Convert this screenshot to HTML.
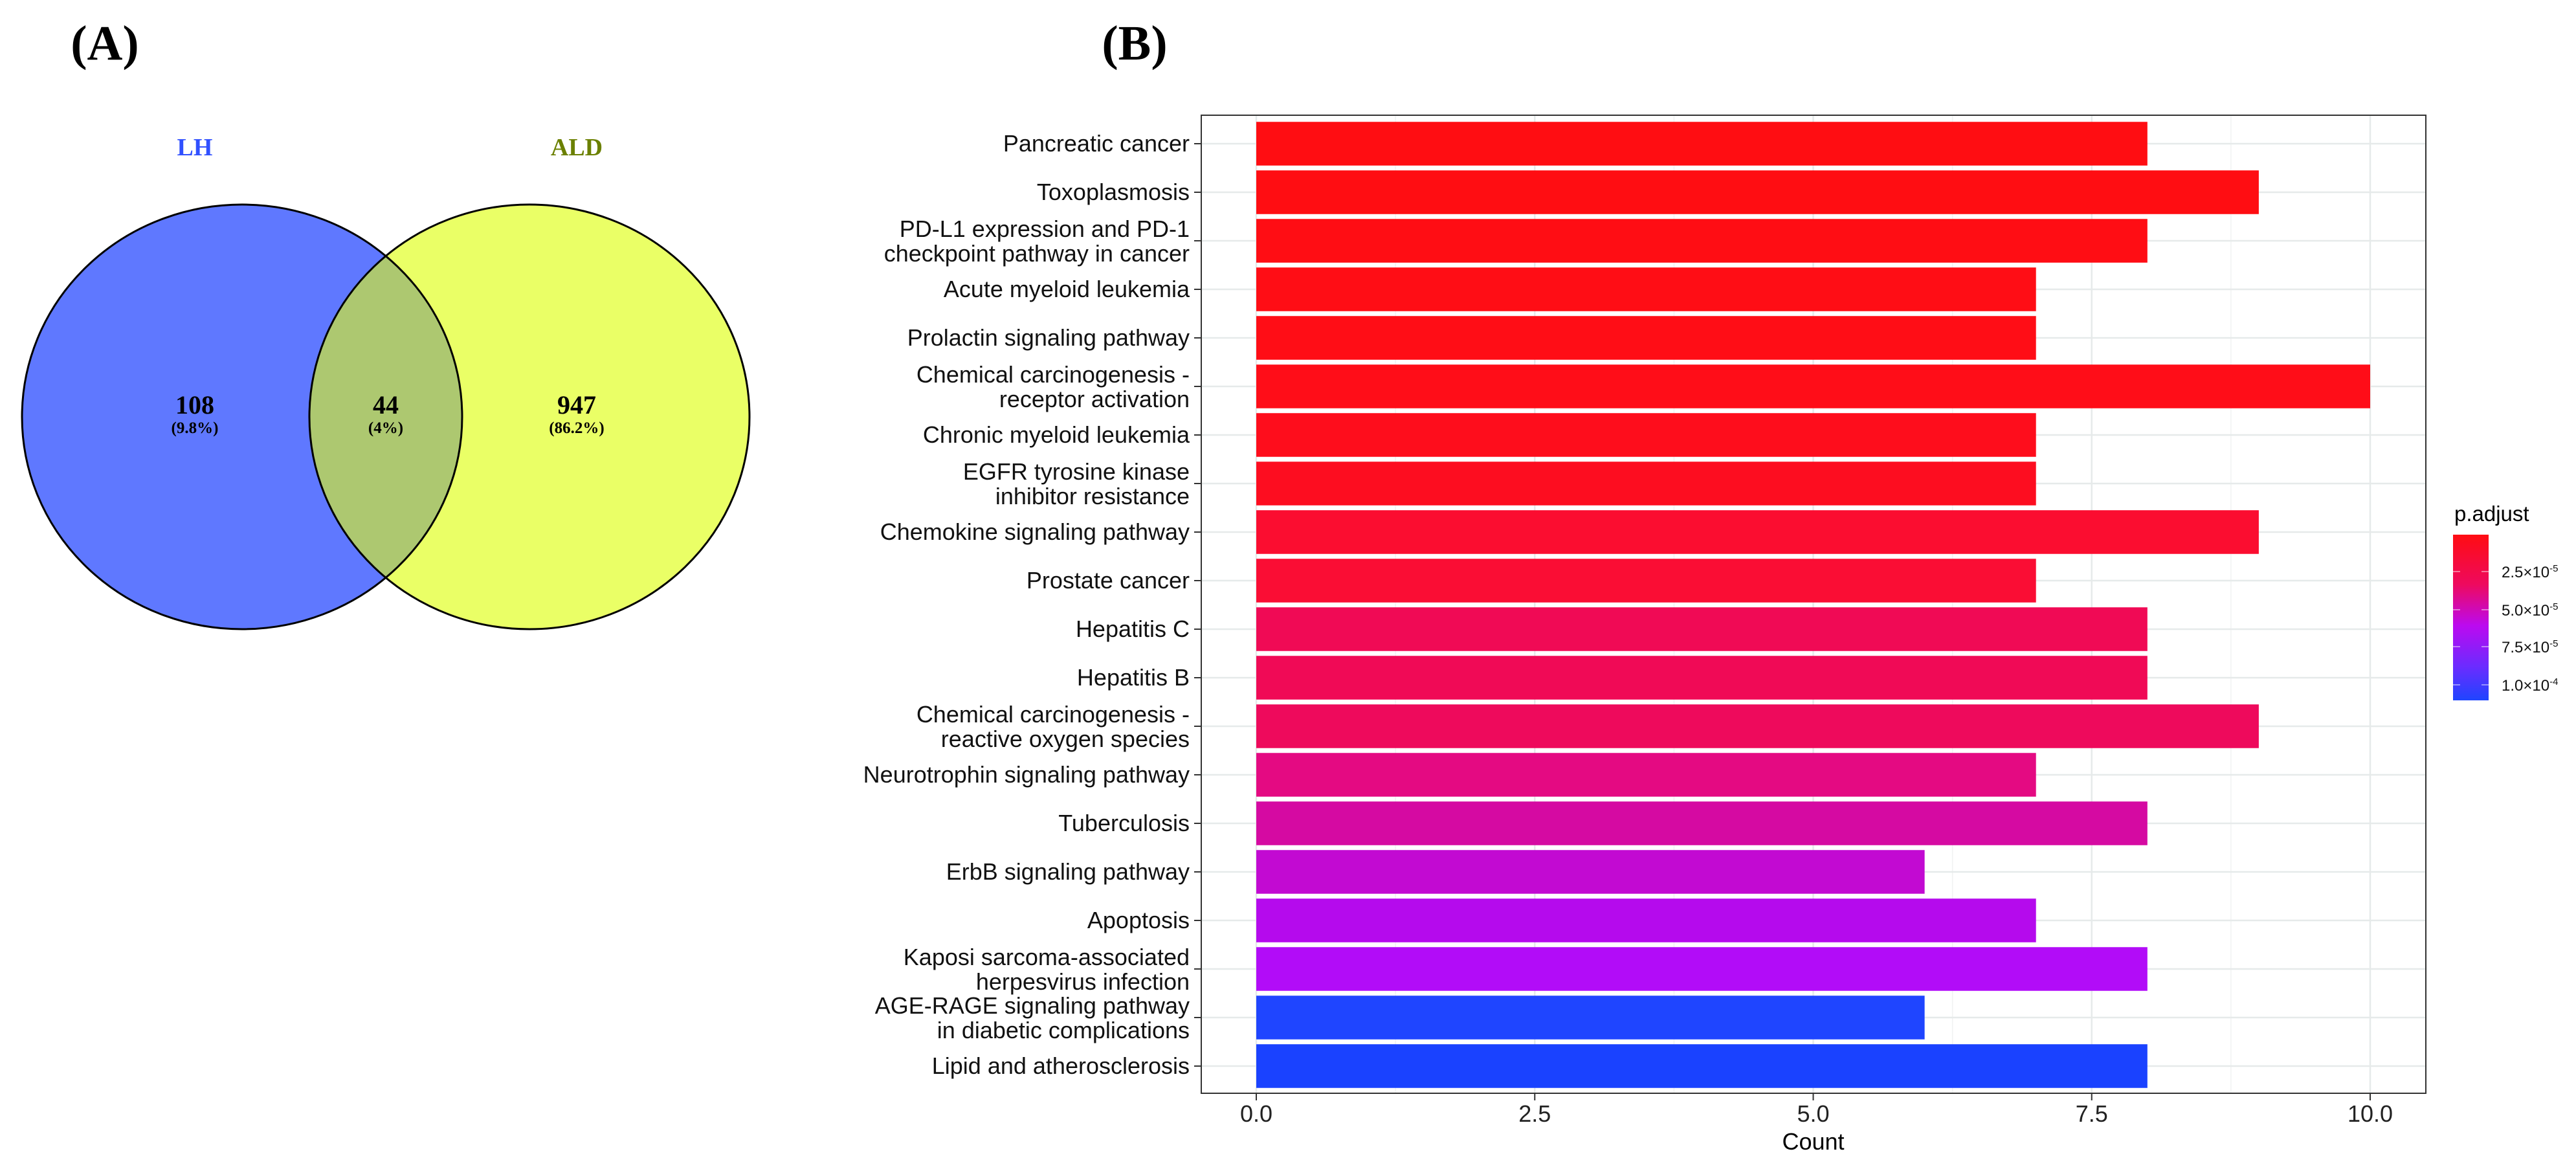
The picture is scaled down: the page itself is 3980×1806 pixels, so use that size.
<!DOCTYPE html>
<html><head><meta charset="utf-8"><style>
html,body{margin:0;padding:0;background:#fff;}
svg{display:block;}
</style></head><body>
<svg id="fig" width="3980" height="1806" viewBox="0 0 3980 1806" xmlns="http://www.w3.org/2000/svg">
<defs>
<linearGradient id="cbar" x1="0" y1="0" x2="0" y2="1">
<stop offset="0" stop-color="#ff0d12"/>
<stop offset="0.3" stop-color="#ee0a5e"/>
<stop offset="0.55" stop-color="#bb0af0"/>
<stop offset="0.8" stop-color="#6a2cff"/>
<stop offset="1" stop-color="#1f45ff"/>
</linearGradient>
<clipPath id="clipL"><ellipse cx="374" cy="644" rx="340" ry="328"/></clipPath>
</defs>
<text x="162" y="92" font-family="Liberation Serif, serif" font-weight="bold" font-size="76" text-anchor="middle">(A)</text>
<text x="1753" y="92" font-family="Liberation Serif, serif" font-weight="bold" font-size="76" text-anchor="middle">(B)</text>

<g>
<ellipse cx="374" cy="644" rx="340" ry="328" fill="#5f78ff"/>
<ellipse cx="818" cy="644" rx="340" ry="328" fill="#eaff66"/>
<ellipse cx="818" cy="644" rx="340" ry="328" fill="#adc870" clip-path="url(#clipL)"/>
<ellipse cx="374" cy="644" rx="340" ry="328" fill="none" stroke="#000" stroke-width="3"/>
<ellipse cx="818" cy="644" rx="340" ry="328" fill="none" stroke="#000" stroke-width="3"/>
<text x="301" y="240" font-family="Liberation Serif, serif" font-weight="bold" font-size="38" fill="#3050ff" text-anchor="middle">LH</text>
<text x="891" y="240" font-family="Liberation Serif, serif" font-weight="bold" font-size="38" fill="#6b8000" text-anchor="middle">ALD</text>
<g font-family="Liberation Serif, serif" font-weight="bold" text-anchor="middle">
<text x="301" y="639" font-size="40">108</text>
<text x="301" y="669" font-size="25">(9.8%)</text>
<text x="596" y="639" font-size="40">44</text>
<text x="596" y="669" font-size="25">(4%)</text>
<text x="891" y="639" font-size="40">947</text>
<text x="891" y="669" font-size="25">(86.2%)</text>
</g>
</g>

<g id="chart"></g>

<g>
<text x="3792" y="805" font-family="Liberation Sans, sans-serif" font-size="33">p.adjust</text>
<rect x="3790" y="826" width="55" height="256" fill="url(#cbar)"/>
<g id="legticks"></g>
</g>
</svg>
<script>
const categories = ["Pancreatic cancer","Toxoplasmosis","PD-L1 expression and PD-1|checkpoint pathway in cancer","Acute myeloid leukemia","Prolactin signaling pathway","Chemical carcinogenesis -|receptor activation","Chronic myeloid leukemia","EGFR tyrosine kinase|inhibitor resistance","Chemokine signaling pathway","Prostate cancer","Hepatitis C","Hepatitis B","Chemical carcinogenesis -|reactive oxygen species","Neurotrophin signaling pathway","Tuberculosis","ErbB signaling pathway","Apoptosis","Kaposi sarcoma-associated|herpesvirus infection","AGE-RAGE signaling pathway|in diabetic complications","Lipid and atherosclerosis"];
const counts = [8,9,8,7,7,10,7,7,9,7,8,8,9,7,8,6,7,8,6,8];
const barColors = ["#ff0d12","#ff0d12","#ff0d14","#ff0d15","#ff0d16","#ff0d18","#fe0d1c","#fd0d20","#fb0d30","#fa0d34","#f00a55","#f00a56","#ee0a5c","#e40a82","#d50aa2","#c20ad2","#b50aed","#b20cf8","#1f45ff","#1a42ff"];
const xTicks = [0,2.5,5,7.5,10];
const xTickLabels = ["0.0","2.5","5.0","7.5","10.0"];
const legendLabels = ["2.5×10","5.0×10","7.5×10","1.0×10"];
const legendExps = ["-5","-5","-5","-4"];

const NS="http://www.w3.org/2000/svg";
const P={l:1856,r:3748,t:178,b:1689};
const x0=1941, xUnit=172.1;
const xs=v=>x0+v*xUnit;
const yFirst=222, yStep=75;
const ys=i=>yFirst+i*yStep;
const g=document.getElementById('chart');
function mk(t,a,p){const e=document.createElementNS(NS,t);for(const k in a)e.setAttribute(k,a[k]);(p||g).appendChild(e);return e;}

const bg=mk('rect',{x:P.l,y:P.t,width:P.r-P.l,height:P.b-P.t,fill:'#fff'});


for(let i=0;i<xTicks.length-1;i++){const v=(xTicks[i]+xTicks[i+1])/2;
 const l=mk('line',{x1:xs(v),x2:xs(v),y1:P.t,y2:P.b,stroke:'#f0f2f2','stroke-width':1.5});
 
 }
xTicks.forEach(v=>{const l=mk('line',{x1:xs(v),x2:xs(v),y1:P.t,y2:P.b,stroke:'#e6eaea','stroke-width':2.5});
 
 });
categories.forEach((c,i)=>{const l=mk('line',{x1:P.l,x2:P.r,y1:ys(i),y2:ys(i),stroke:'#e6eaea','stroke-width':2.5});
 
 });
const bh=yStep*0.9;
counts.forEach((v,i)=>{
 const r=mk('rect',{x:xs(0),y:ys(i)-bh/2,width:xs(v)-xs(0),height:bh,fill:barColors[i]});
 
 
});
const fr=mk('rect',{x:P.l,y:P.t,width:P.r-P.l,height:P.b-P.t,fill:'none',stroke:'#333','stroke-width':2});


categories.forEach((c,i)=>{
 const y=ys(i);
 mk('line',{x1:P.l-11,x2:P.l,y1:y,y2:y,stroke:'#333','stroke-width':2});
 const lines=c.split('|');
 const t=mk('text',{x:1838,'font-family':'Liberation Sans, sans-serif','font-size':36,'text-anchor':'end',fill:'#111'});
 
 
 if(lines.length===1){t.setAttribute('y',y+12);t.textContent=c;}
 else{lines.forEach((s,k)=>{const ts=mk('tspan',{x:1838,y:y-6+k*38},t);ts.textContent=s;});}
});
xTicks.forEach((v,i)=>{
 mk('line',{x1:xs(v),x2:xs(v),y1:P.b,y2:P.b+11,stroke:'#333','stroke-width':2});
 const t=mk('text',{x:xs(v),y:1733,'font-family':'Liberation Sans, sans-serif','font-size':36,'text-anchor':'middle',fill:'#222'});
 
 
 t.textContent=xTickLabels[i];
});
const xt=mk('text',{x:xs(5),y:1776,'font-family':'Liberation Sans, sans-serif','font-size':36,'text-anchor':'middle'});


xt.textContent='Count';
const lg=document.getElementById('legticks');
const legY=[883,942,999,1058];
legendLabels.forEach((s,i)=>{
 mk('line',{x1:3790,x2:3801,y1:legY[i],y2:legY[i],stroke:'#fff','stroke-width':1.5,opacity:0.6},lg);
 mk('line',{x1:3834,x2:3845,y1:legY[i],y2:legY[i],stroke:'#fff','stroke-width':1.5,opacity:0.6},lg);
 const t=mk('text',{x:3865,y:legY[i]+9,'font-family':'Liberation Sans, sans-serif','font-size':24,fill:'#111'},lg);
 
 
 t.textContent=s;
 const sp=mk('tspan',{dy:-9,'font-size':15},t);sp.textContent=legendExps[i];
});
</script>
</body></html>
